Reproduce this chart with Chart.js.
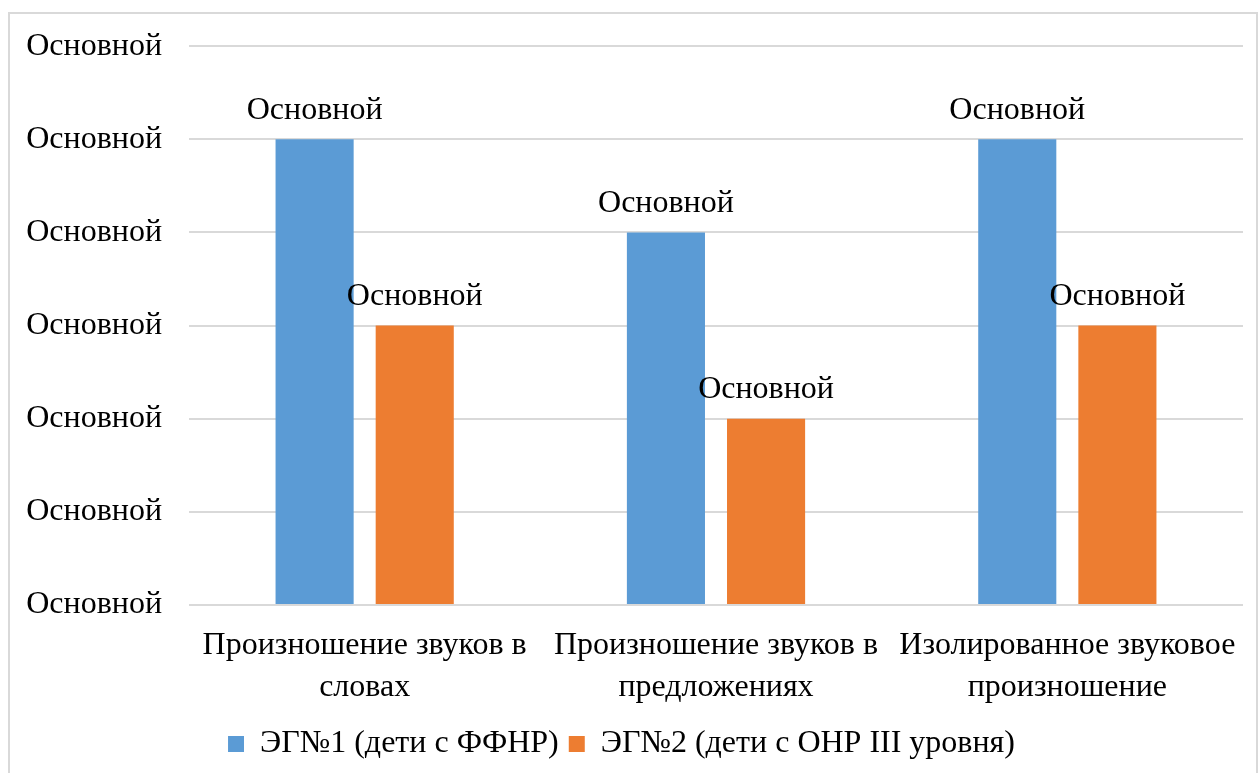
<!DOCTYPE html>
<html>
<head>
<meta charset="utf-8">
<script src="https://cdn.jsdelivr.net/npm/chart.js@4/dist/chart.umd.min.js"></script>
<style>
  html, body { margin: 0; padding: 0; background: #fff; }
  #frame { position: absolute; left: 8px; top: 12px; width: 1250px; height: 775px; border: 2px solid #d9d9d9; box-sizing: border-box; }
  #wrap { position: absolute; left: 0; top: 0; width: 1260px; height: 773px; }
</style>
</head>
<body>
<div id="frame"></div>
<div id="wrap"><canvas id="barChart"></canvas></div>
<script>
var categories = [
    ['Произношение звуков в', 'словах'],
    ['Произношение звуков в', 'предложениях'],
    ['Изолированное звуковое', 'произношение']
];
var seriesNames = ['ЭГ№1 (дети с ФФНР)', 'ЭГ№2 (дети с ОНР III уровня)'];
var group1 = [5, 4, 5];
var group2 = [3, 2, 3];
var tickText = 'Основной';   // every number shows as "Основной" in the source
var pointText = 'Основной';

var font = "'Liberation Serif', 'Times New Roman', serif";

var barLabels = {
    id: 'barLabels',
    afterDatasetsDraw: function(chart) {
        var ctx = chart.ctx;
        ctx.save();
        ctx.fillStyle = '#000';
        ctx.font = '32px ' + font;
        ctx.textAlign = 'center';
        ctx.textBaseline = 'middle';
        chart.data.datasets.forEach(function(ds, i) {
            chart.getDatasetMeta(i).data.forEach(function(bar) {
                ctx.fillText(pointText, bar.x, bar.y - 29);
            });
        });
        ctx.restore();
    }
};

new Chart(document.getElementById('barChart'), {
    type: 'bar',
    data: {
        labels: categories,
        datasets: [
            { label: seriesNames[0], data: group1, backgroundColor: '#5b9bd5' },
            { label: seriesNames[1], data: group2, backgroundColor: '#ed7d31' }
        ]
    },
    options: {
        responsive: true,
        maintainAspectRatio: false,
        animation: false,
        layout: { padding: { left: 0, right: 17, top: 44, bottom: 3 } },
        datasets: { bar: { categoryPercentage: 0.57, barPercentage: 0.78 } },
        scales: {
            x: {
                afterFit: function(scale) { scale.height = 113; },
                grid: { display: false },
                border: { display: false },
                ticks: { color: '#000', font: { family: font, size: 32, lineHeight: '42px' }, padding: 12, maxRotation: 0, autoSkip: false }
            },
            y: {
                min: 0,
                max: 6,
                afterFit: function(scale) { scale.width = 189; },
                grid: { color: '#d9d9d9', lineWidth: 2, drawTicks: false },
                border: { display: false },
                ticks: {
                    stepSize: 1,
                    color: '#000',
                    padding: 27,
                    font: { family: font, size: 32 },
                    callback: function() { return tickText; }
                }
            }
        },
        plugins: {
            tooltip: { enabled: false },
            legend: {
                position: 'bottom',
                labels: { color: '#000', font: { family: font, size: 32 }, boxWidth: 16, boxHeight: 16, padding: 10 }
            }
        }
    },
    plugins: [barLabels]
});
</script>
</body>
</html>
